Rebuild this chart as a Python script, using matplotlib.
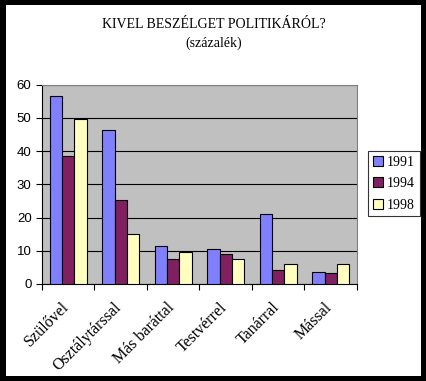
import matplotlib.pyplot as plt
from matplotlib.patches import Rectangle
from matplotlib.transforms import ScaledTranslation
import numpy as np

categories = ['Szülővel', 'Osztálytárssal', 'Más baráttal', 'Testvérrel', 'Tanárral', 'Mással']
years = ['1991', '1994', '1998']
v1991 = [56.5, 46.3, 11.4, 10.5, 21.0, 3.5]
v1994 = [38.4, 25.2, 7.5, 9.0, 4.2, 3.2]
v1998 = [49.5, 15.0, 9.6, 7.5, 6.0, 6.0]
colors = ['#8080FF', '#802060', '#FFFFC0']

plt.rcParams['font.family'] = ['Liberation Serif', 'DejaVu Serif']

W, H = 427, 381
fig = plt.figure(figsize=(W / 100, H / 100), dpi=100)
fig.patch.set_facecolor('black')
fig.patches.append(Rectangle((6 / W, 5 / H), (421 - 6) / W, (376 - 5) / H,
                             transform=fig.transFigure, facecolor='white',
                             edgecolor='none', zorder=-1))

ax = fig.add_axes([42 / W, 1 - 284 / H, (357 - 42) / W, (284 - 84.5) / H])
ax.set_facecolor('#C0C0C0')

x = np.arange(len(categories))
bw = 0.235
for i, (vals, yr) in enumerate(zip([v1991, v1994, v1998], years)):
    ax.bar(x + (i - 1) * bw, vals, bw, color=colors[i], edgecolor='black',
           linewidth=0.8, label=yr, zorder=3)

ax.set_xlim(-0.5, len(categories) - 0.5)
ax.set_ylim(0, 60)
ax.set_yticks(range(0, 61, 10))
ax.yaxis.grid(True, color='black', linewidth=0.8, zorder=1)
ax.set_axisbelow(True)

ax.set_xticks(np.arange(len(categories) + 1) - 0.5)
ax.set_xticklabels([])
ax.set_xticks(x, minor=True)
ax.set_xticklabels(categories, minor=True, rotation=45, ha='right', va='top',
                   rotation_mode='anchor', fontsize=11.5)
ax.tick_params(axis='x', which='minor', length=0, pad=11)
ax.tick_params(axis='x', which='major', length=4, color='black', width=0.8)
ax.tick_params(axis='y', length=4, width=0.8, labelsize=9.5)
shift = ScaledTranslation(-7 / 100, 0, fig.dpi_scale_trans)
for lab in ax.get_xticklabels(minor=True):
    lab.set_transform(lab.get_transform() + shift)
for lab in ax.get_yticklabels():
    lab.set_fontfamily('Liberation Sans')

for s in ['top', 'right']:
    ax.spines[s].set_color('#808080')
for s in ['left', 'bottom']:
    ax.spines[s].set_color('black')

fig.text(214 / W, 1 - 25 / H, 'KIVEL BESZÉLGET POLITIKÁRÓL?', ha='center',
         va='center', fontsize=10)
fig.text(214 / W, 1 - 43 / H, '(százalék)', ha='center', va='center', fontsize=10)

leg = fig.legend(loc='upper left', bbox_to_anchor=(368 / W, 1 - 151 / H),
                 frameon=True, fancybox=False, fontsize=10, handlelength=0.7,
                 handleheight=0.7, handletextpad=0.3, borderpad=0.35,
                 labelspacing=0.6, borderaxespad=0)
leg.get_frame().set_edgecolor('black')
leg.get_frame().set_linewidth(0.8)

fig.savefig('out.png', dpi=100, facecolor='black')
